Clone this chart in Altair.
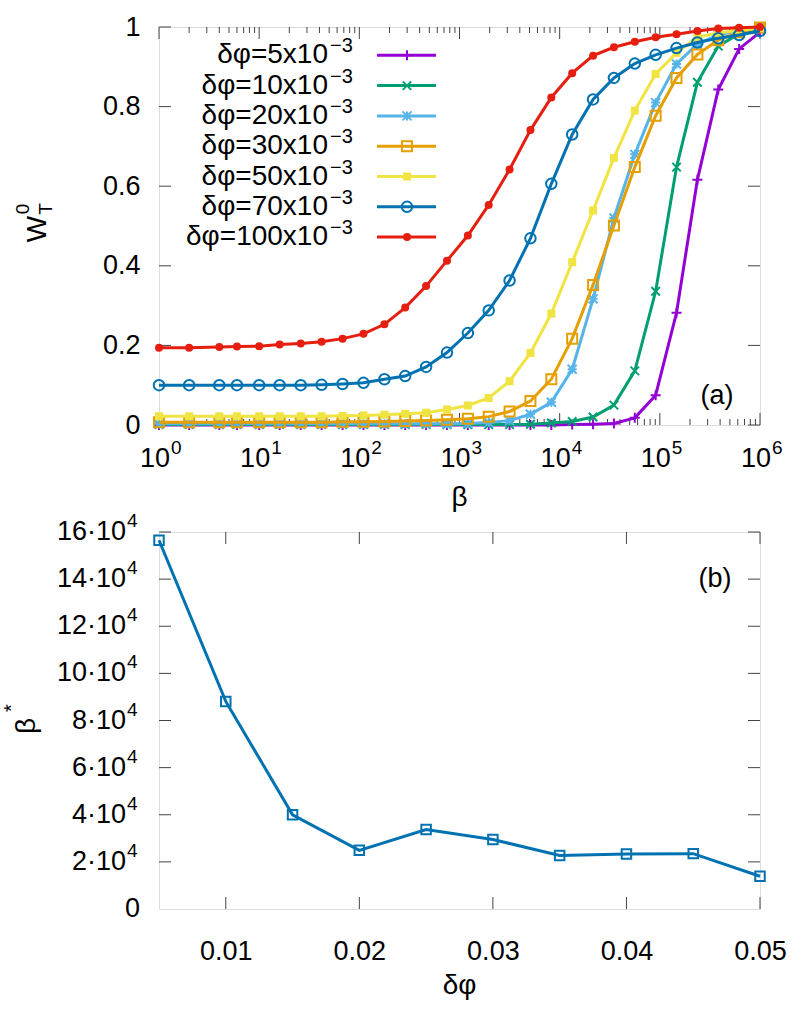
import altair as alt
import pandas as pd

# ---------------- data ----------------
beta = [1, 2, 4, 6, 10, 16, 26, 42, 68, 110, 178, 287, 464, 750, 1212, 1957,
        3162, 5108, 8254, 13335, 21544, 34808, 56234, 90851, 146780, 237137,
        383119, 618966, 1000000]

w_5 = [0, 0, 0, 0, 0, 0, 0, 0, 0, 0, 0, 0, 0, 0, 0, 0, 0, 0, 0.000, 0.001,
       0.002, 0.004, 0.018, 0.075, 0.282, 0.616, 0.843, 0.945, 0.987]
w_10 = [0.001, 0.001, 0.001, 0.001, 0.001, 0.001, 0.001, 0.001, 0.001, 0.001,
        0.001, 0.001, 0.001, 0.001, 0.001, 0.001, 0.001, 0.002, 0.005, 0.009,
        0.020, 0.050, 0.136, 0.336, 0.648, 0.861, 0.952, 0.983, 0.995]
w_20 = [0.003, 0.003, 0.003, 0.003, 0.003, 0.003, 0.003, 0.003, 0.003, 0.003,
        0.003, 0.003, 0.003, 0.003, 0.004, 0.006, 0.011, 0.027, 0.057, 0.140,
        0.317, 0.520, 0.680, 0.810, 0.907, 0.957, 0.980, 0.991, 0.998]
w_30 = [0.007, 0.007, 0.007, 0.007, 0.007, 0.007, 0.007, 0.007, 0.008, 0.008,
        0.009, 0.010, 0.011, 0.013, 0.016, 0.021, 0.034, 0.060, 0.115, 0.217,
        0.352, 0.501, 0.648, 0.777, 0.872, 0.931, 0.967, 0.987, 0.999]
w_50 = [0.022, 0.022, 0.022, 0.022, 0.022, 0.022, 0.022, 0.022, 0.023, 0.024,
        0.026, 0.028, 0.031, 0.039, 0.049, 0.068, 0.110, 0.181, 0.280, 0.409,
        0.539, 0.671, 0.790, 0.882, 0.935, 0.975, 0.985, 0.992, 0.997]
w_70 = [0.100, 0.100, 0.100, 0.100, 0.100, 0.100, 0.100, 0.101, 0.103, 0.106,
        0.115, 0.123, 0.146, 0.182, 0.231, 0.288, 0.363, 0.469, 0.606, 0.730,
        0.818, 0.872, 0.908, 0.930, 0.947, 0.961, 0.972, 0.980, 0.990]
w_100 = [0.194, 0.194, 0.196, 0.197, 0.198, 0.202, 0.205, 0.209, 0.217, 0.229,
         0.253, 0.295, 0.349, 0.413, 0.476, 0.553, 0.642, 0.741, 0.823, 0.884,
         0.928, 0.949, 0.963, 0.974, 0.982, 0.990, 0.996, 0.998, 1.000]

series_vals = [w_5, w_10, w_20, w_30, w_50, w_70, w_100]
dphi_labels = ["5", "10", "20", "30", "50", "70", "100"]
colors = ["#9400D3", "#009E73", "#56B4E9", "#E69F00", "#F0E442", "#0072B2", "#E51E10"]

dphi = [0.005, 0.010, 0.015, 0.020, 0.025, 0.030, 0.035, 0.040, 0.045, 0.050]
beta_star = [156500, 88100, 40000, 24900, 33700, 29500, 22700, 23300, 23500, 13900]

# tick labels
x_major_a = [1, 10, 100, 1000, 10000, 100000, 1000000]
x_exp_a = ["0", "1", "2", "3", "4", "5", "6"]
y_ticks_a = [0, 0.2, 0.4, 0.6, 0.8, 1.0]
x_ticks_b = [0.01, 0.02, 0.03, 0.04, 0.05]
y_ticks_b = [20000, 40000, 60000, 80000, 100000, 120000, 140000, 160000]
y_main_b = ["2·10", "4·10", "6·10", "8·10", "10·10", "12·10", "14·10", "16·10"]

# ---------------- style ----------------
FONT = "Liberation Sans"
W_A, H_A = 601, 398
W_B, H_B = 601, 377
FS = 27
FS_SUP = 19
LW = 3
TICK = dict(color="#444444", strokeWidth=1)

PLUS = "M-1,0L1,0M0,-1L0,1"
CROSS = "M-1,-1L1,1M-1,1L1,-1"
STAR = PLUS + CROSS
markers = [
    dict(shape=PLUS, filled=False, size=100),
    dict(shape=CROSS, filled=False, size=72),
    dict(shape=STAR, filled=False, size=81),
    dict(shape="square", filled=False, size=100),
    dict(shape="square", filled=True, size=64),
    dict(shape="circle", filled=False, size=110),
    dict(shape="circle", filled=True, size=64),
]

one = pd.DataFrame({"k": [0]})


def txt(x, y, s, size=FS, align="center", angle=None, baseline="middle"):
    kw = dict(align=align, baseline=baseline, fontSize=size, font=FONT, color="black")
    if angle is not None:
        kw["angle"] = angle
    return alt.Chart(one).mark_text(**kw).encode(
        x=alt.value(x), y=alt.value(y), text=alt.value(s))


# ---------------- panel (a) ----------------
xs_a = alt.Scale(type="log", domain=[1, 1000000], nice=False)
ys_a = alt.Scale(domain=[0, 1], nice=False)
yaxis_a = alt.Axis(values=y_ticks_a, format="~g", ticks=False, domain=False, grid=False,
                   labelFontSize=FS, labelFont=FONT, labelColor="black", labelPadding=19,
                   labelFlush=False, labelOverlap=False, title=None)

layers_a = []
df_xmaj = pd.DataFrame({"v": x_major_a, "e": x_exp_a})
df_xmin = pd.DataFrame({"v": [m * 10 ** k for k in range(6) for m in range(2, 10)]})
for df, L in ((df_xmaj, 12), (df_xmin, 6)):
    base = alt.Chart(df).mark_rule(**TICK)
    X = alt.X("v:Q", scale=xs_a, axis=None)
    layers_a.append(base.encode(x=X, y=alt.value(H_A), y2=alt.value(H_A - L)))
    layers_a.append(base.encode(x=X, y=alt.value(0), y2=alt.value(L)))
df_ya = pd.DataFrame({"w": y_ticks_a})
Ya = alt.Y("w:Q", scale=ys_a, axis=yaxis_a)
layers_a.append(alt.Chart(df_ya).mark_rule(**TICK).encode(y=Ya, x=alt.value(0), x2=alt.value(12)))
layers_a.append(alt.Chart(df_ya).mark_rule(**TICK).encode(y=Ya, x=alt.value(W_A - 12), x2=alt.value(W_A)))

# x tick labels 10^k
layers_a.append(alt.Chart(df_xmaj).mark_text(align="right", baseline="middle", dx=11, fontSize=FS,
                                             font=FONT, color="black").encode(
    x=alt.X("v:Q", scale=xs_a, axis=None), y=alt.value(H_A + 34), text=alt.value("10")))
layers_a.append(alt.Chart(df_xmaj).mark_text(align="left", baseline="middle", dx=12, fontSize=FS_SUP,
                                             font=FONT, color="black").encode(
    x=alt.X("v:Q", scale=xs_a, axis=None), y=alt.value(H_A + 23), text="e:N"))

for vals, c, m in zip(series_vals, colors, markers):
    df = pd.DataFrame({"beta": beta, "w": vals})
    enc = dict(x=alt.X("beta:Q", scale=xs_a, axis=None), y=alt.Y("w:Q", scale=ys_a, axis=yaxis_a))
    layers_a.append(alt.Chart(df).mark_line(color=c, strokeWidth=LW).encode(**enc))
    layers_a.append(alt.Chart(df).mark_point(color=c, strokeWidth=2, opacity=1, **m).encode(**enc))

# legend (gnuplot-style key: text, then sample)
for i, (lab, c, m) in enumerate(zip(dphi_labels, colors, markers)):
    yr = 28.3 + 30.3 * i
    layers_a.append(txt(169, yr, f"δφ={lab}x10", size=28, align="right"))
    layers_a.append(txt(171, yr - 9, "−3", size=20, align="left"))
    layers_a.append(alt.Chart(one).mark_rule(color=c, strokeWidth=LW).encode(
        x=alt.value(218), x2=alt.value(277), y=alt.value(yr)))
    layers_a.append(alt.Chart(one).mark_point(color=c, strokeWidth=2, opacity=1, **m).encode(
        x=alt.value(248), y=alt.value(yr)))

layers_a.append(txt(558, 369, "(a)"))
layers_a.append(txt(W_A / 2, H_A + 73, "β", size=28))
# y title W_T^0 (rotated)
layers_a.append(txt(-121, 202, "W", size=28, angle=270))
layers_a.append(txt(-136, 182, "0", size=FS_SUP, angle=270))
layers_a.append(txt(-113, 182, "T", size=FS_SUP, angle=270))

panel_a = alt.layer(*layers_a).properties(width=W_A, height=H_A)

# ---------------- panel (b) ----------------
xs_b = alt.Scale(domain=[0.005, 0.05], nice=False, zero=False)
ys_b = alt.Scale(domain=[0, 160000], nice=False)
xaxis_b = alt.Axis(values=x_ticks_b, format="~g", ticks=False, domain=False, grid=False,
                   labelFontSize=FS, labelFont=FONT, labelColor="black", labelPadding=29,
                   labelFlush=False, labelOverlap=False, title=None)
Xb = alt.X("v:Q", scale=xs_b, axis=xaxis_b)

layers_b = []
df_xb = pd.DataFrame({"v": x_ticks_b})
layers_b.append(alt.Chart(df_xb).mark_rule(**TICK).encode(x=Xb, y=alt.value(H_B), y2=alt.value(H_B - 12)))
layers_b.append(alt.Chart(df_xb).mark_rule(**TICK).encode(x=Xb, y=alt.value(0), y2=alt.value(12)))
df_yb = pd.DataFrame({"b": y_ticks_b, "t": y_main_b})
Yb = alt.Y("b:Q", scale=ys_b, axis=None)
layers_b.append(alt.Chart(df_yb).mark_rule(**TICK).encode(y=Yb, x=alt.value(0), x2=alt.value(12)))
layers_b.append(alt.Chart(df_yb).mark_rule(**TICK).encode(y=Yb, x=alt.value(W_B - 12), x2=alt.value(W_B)))
# y tick labels n·10^4
layers_b.append(alt.Chart(df_yb).mark_text(align="right", baseline="middle", fontSize=FS, font=FONT,
                                           color="black").encode(y=Yb, x=alt.value(-33), text="t:N"))
layers_b.append(alt.Chart(df_yb).mark_text(align="left", baseline="middle", dy=-11, fontSize=FS_SUP,
                                           font=FONT, color="black").encode(
    y=Yb, x=alt.value(-32), text=alt.value("4")))
layers_b.append(alt.Chart(pd.DataFrame({"b": [0]})).mark_text(
    align="right", baseline="middle", fontSize=FS, font=FONT, color="black").encode(
    y=Yb, x=alt.value(-19), text=alt.value("0")))

df_b = pd.DataFrame({"v": dphi, "b": beta_star})
layers_b.append(alt.Chart(df_b).mark_line(color="#0072B2", strokeWidth=LW).encode(x=Xb, y=Yb))
layers_b.append(alt.Chart(df_b).mark_point(color="#0072B2", shape="square", filled=False, size=90,
                                           strokeWidth=2, opacity=1).encode(x=Xb, y=Yb))

layers_b.append(txt(556, 47, "(b)"))
layers_b.append(txt(W_B / 2, H_B + 77, "δφ", size=28))
layers_b.append(txt(-132, 194, "β", size=28, angle=270))
layers_b.append(txt(-147, 176, "*", size=20, angle=270))

panel_b = alt.layer(*layers_b).properties(width=W_B, height=H_B)

chart = alt.vconcat(panel_a, panel_b, spacing=-2).properties(
    padding={"left": 1, "top": 12, "right": 5, "bottom": 5}
).configure_view(stroke="black", strokeWidth=1.5).configure(background="white")

chart.save("out.html", embed_options={"renderer": "svg", "actions": False})
